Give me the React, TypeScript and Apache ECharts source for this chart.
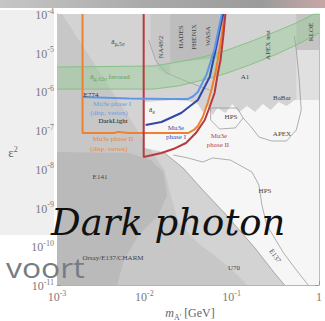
import React, { useEffect, useRef } from 'react';
import * as echarts from 'echarts';

type P = [number, number];

// ---- curves: [m_A' (GeV), epsilon^2] ----
const mu3ePhase2Displaced: P[] = [
  [1.96e-3, 1e-4], [1.96e-3, 8.4e-8], [4.5e-3, 8.4e-8], [5.0e-3, 9.0e-8], [6.7e-3, 8.4e-8],
  [3.16e-2, 8.4e-8], [3.69e-2, 1.01e-7], [4.1e-2, 1.28e-7], [4.67e-2, 2.18e-7], [5.31e-2, 5.0e-7],
  [5.9e-2, 1.15e-6], [6.54e-2, 3.18e-6], [7.26e-2, 1.17e-5], [7.84e-2, 3.86e-5], [8.27e-2, 1e-4],
];
const mu3ePhase2Prompt: P[] = [
  [9.83e-3, 1e-4], [9.83e-3, 2.02e-8], [1.57e-2, 2.57e-8], [2.14e-2, 3.25e-8], [3.0e-2, 4.65e-8],
  [3.89e-2, 8.4e-8], [4.92e-2, 1.83e-7], [5.6e-2, 3.96e-7], [6.37e-2, 9.1e-7], [6.89e-2, 2.65e-6],
  [7.45e-2, 6.48e-6], [8.05e-2, 2.87e-5], [8.48e-2, 1e-4],
];
const mu3ePhase1Prompt: P[] = [
  [1.035e-2, 1.36e-7], [1.57e-2, 1.62e-7], [2.64e-2, 2.77e-7], [4.1e-2, 6.0e-7], [5.6e-2, 2.36e-6],
  [6.54e-2, 1.17e-5], [7.84e-2, 8.37e-5], [8.05e-2, 1e-4],
];
const mu3ePhase1Displaced: P[] = [
  [1.96e-3, 7.2e-7], [6.7e-3, 6.6e-7], [1.9e-2, 6.4e-7], [3.16e-2, 6.4e-7], [3.6e-2, 7.4e-7],
  [4.1e-2, 9.7e-7], [5.18e-2, 2.8e-6], [6.37e-2, 1.25e-5], [7.45e-2, 7.0e-5], [7.66e-2, 1e-4],
];

// ---- a_mu +-2 sigma favoured band ----
const amuBandUpper: P[] = [
  [1e-3, 4.27e-6], [1.27e-2, 4.54e-6], [2.44e-2, 5.75e-6], [4.67e-2, 7.75e-6], [8.93e-2, 1.17e-5],
  [0.171, 2.0e-5], [0.311, 3.43e-5], [0.55, 5.85e-5], [0.878, 1e-4], [1.0, 1e-4],
];
const amuBandLower: P[] = [
  [1e-3, 1.15e-6], [1.27e-2, 1.15e-6], [2.44e-2, 1.38e-6], [4.67e-2, 1.97e-6], [8.93e-2, 2.99e-6],
  [0.171, 5.1e-6], [0.311, 8.73e-6], [0.55, 1.58e-5], [1.0, 3.23e-5],
];

// ---- excluded / allowed regions ----
const aeRegion: P[] = [
  [1e-3, 1e-4], [1.14e-3, 1e-4], [1.035e-2, 4.65e-8], [1.7e-2, 9.33e-9], [1.7e-2, 1e-11], [1e-3, 1e-11],
];
const na48Region: P[] = [
  [1.18e-2, 1e-4], [1.98e-2, 1e-4], [1.98e-2, 2.65e-6], [1.45e-2, 3.57e-6], [1.18e-2, 1.58e-5],
];
const hadesWasaRegion: P[] = [
  [1.98e-2, 1e-4], [7.26e-2, 1e-4], [7.26e-2, 7.3e-6], [4.1e-2, 6.48e-6], [1.98e-2, 5.42e-6],
];
const kloeRegion: P[] = [[0.55, 1e-4], [1.0, 1e-4], [1.0, 1.17e-5], [0.55, 1.17e-5]];
const rightLightRegion: P[] = [[0.55, 1.17e-5], [1.0, 1.17e-5], [1.0, 6e-7], [0.55, 6e-7]];
const allowedRegion: P[] = [
  [1.01e-2, 5.33e-7], [1.45e-2, 5.66e-7], [2.14e-2, 6.0e-7], [3.16e-2, 5.66e-7], [4.1e-2, 4.73e-7],
  [4.67e-2, 2.94e-7], [5.31e-2, 4.2e-7], [6.05e-2, 2.46e-7], [6.89e-2, 3.73e-7], [8.48e-2, 2.77e-7],
  [0.1017, 4.73e-7], [0.122, 2.94e-7], [0.15, 4.2e-7], [0.185, 2.94e-7], [0.2275, 4.73e-7],
  [0.28, 3.31e-7], [0.345, 5.33e-7], [0.4245, 4.2e-7], [0.522, 6.0e-7], [1.0, 6.0e-7],
  [1.0, 1e-11], [0.403, 1e-11], [0.303, 2.16e-11], [0.185, 9.0e-11], [8.27e-2, 7.23e-10],
  [4.67e-2, 2.84e-9], [2.78e-2, 1.05e-8], [1.65e-2, 2.72e-8], [1.01e-2, 3.46e-8],
];
const beamDumpOuter: P[] = [
  [1e-3, 3.07e-8], [6.66e-3, 2.72e-8], [1.18e-2, 1.91e-8], [1.7e-2, 9.33e-9], [1.93e-2, 2.84e-9],
  [2.44e-2, 4.23e-10], [4.1e-2, 1.21e-10], [7.45e-2, 4.42e-11], [0.1158, 1.81e-11], [0.15, 1e-11], [1e-3, 1e-11],
];
const beamDumpInner: P[] = [
  [1e-3, 2.72e-8], [6.66e-3, 2.57e-8], [1.18e-2, 1.69e-8], [1.65e-2, 8.28e-9], [1.83e-2, 2.11e-9],
  [1.45e-2, 6.42e-10], [8.63e-3, 1.95e-10], [5.85e-3, 4.42e-11], [4.88e-3, 1e-11], [1e-3, 1e-11],
];

// ---- thin outlines ----
const e137Line: P[] = [
  [1.65e-2, 2.72e-8], [2.78e-2, 1.05e-8], [4.67e-2, 2.84e-9], [8.27e-2, 7.23e-10], [0.185, 9.0e-11],
  [0.303, 2.16e-11], [0.403, 1e-11],
];
const snLine: P[] = [
  [2.14e-2, 2.28e-8], [3.16e-2, 1.91e-8], [4.67e-2, 1.5e-8], [6.05e-2, 1.91e-8], [9.66e-2, 1.69e-8],
  [0.171, 8.28e-9], [0.205, 3.82e-9], [0.222, 1.16e-9], [0.2524, 3.54e-10], [0.393, 6.7e-11],
  [0.55, 2.44e-11], [0.751, 1e-11],
];
const hpsBubble: P[] = [
  [5.74e-2, 3.73e-7], [0.1158, 3.73e-7], [0.1354, 2.06e-7], [0.11, 1.14e-7], [7.26e-2, 1.07e-7],
  [5.74e-2, 1.83e-7], [5.74e-2, 3.73e-7],
];
const apexLine: P[] = [
  [0.1354, 2.06e-7], [0.171, 1.14e-7], [0.205, 6.65e-8], [0.2875, 5.24e-8], [0.4245, 5.24e-8],
  [0.55, 1.01e-7], [0.626, 3.31e-7], [0.594, 1.97e-6], [0.55, 1.17e-5], [0.522, 2.7e-5],
];
const amu5sLine: P[] = [
  [1.12e-2, 2.13e-5], [1.34e-2, 6.48e-6], [1.79e-2, 2.99e-6], [3.16e-2, 1.75e-6], [5.6e-2, 1.09e-6],
];

const SERIF = "'Liberation Serif', 'Times New Roman', serif";
const TICK_COLOR = '#7a7a7a';

function polygonSeries(name: string, pts: P[], fill: string, z: number, stroke = 'none', lw = 0) {
  return {
    type: 'custom',
    name,
    z,
    silent: true,
    clip: true,
    data: pts,
    encode: { x: 0, y: 1 },
    renderItem: (params: any, api: any) => {
      if (params.dataIndex !== 0) return null;
      return {
        type: 'polygon',
        shape: { points: pts.map((p) => api.coord(p)) },
        style: { fill, stroke, lineWidth: lw },
      };
    },
  };
}

function lineSeries(name: string, pts: P[], color: string, width: number, z: number) {
  return {
    type: 'line',
    name,
    data: pts,
    z,
    silent: true,
    showSymbol: false,
    symbol: 'none',
    clip: true,
    lineStyle: { color, width },
  };
}

function lbl(text: string, x: number, y: number, color = '#444', size = 7, rotation = 0) {
  return {
    type: 'text',
    x,
    y,
    rotation,
    z: 60,
    silent: true,
    style: {
      text,
      fill: color,
      fontSize: size,
      fontFamily: SERIF,
      align: 'center',
      verticalAlign: 'middle',
      textAlign: 'center',
      textVerticalAlign: 'middle',
    },
  };
}

function powLabel(v: number) {
  const e = Math.round(Math.log10(v));
  if (e === 0) return '{b|1}';
  return `{b|10}{s|${e}}`;
}

const tickRich = {
  b: { fontFamily: SERIF, fontSize: 12, color: TICK_COLOR, lineHeight: 14, verticalAlign: 'bottom' },
  s: { fontFamily: SERIF, fontSize: 8, color: TICK_COLOR, lineHeight: 8, verticalAlign: 'top' },
};

export default function App() {
  const ref = useRef<HTMLDivElement>(null);
  useEffect(() => {
    if (!ref.current) return;
    const chart = echarts.init(ref.current, null, { renderer: 'svg' });
    const bandPoly: P[] = [...amuBandUpper, ...amuBandLower.slice().reverse()];
    const option: any = {
      animation: false,
      backgroundColor: '#ffffff',
      grid: { left: 57, right: 3, top: 14, bottom: 36, show: true, backgroundColor: '#d3d3d3', borderWidth: 0 },
      xAxis: {
        type: 'log',
        logBase: 10,
        min: 1e-3,
        max: 1,
        axisLine: { show: true, lineStyle: { color: '#b5b5b5' } },
        axisTick: { show: true, inside: true, length: 4, lineStyle: { color: '#9a9a9a' } },
        splitLine: { show: false },
        axisLabel: { margin: 4, formatter: powLabel, rich: tickRich },
      },
      yAxis: [
        {
          type: 'log',
          logBase: 10,
          min: 1e-11,
          max: 1e-4,
          axisLine: { show: true, lineStyle: { color: '#b5b5b5' } },
          axisTick: { show: true, inside: true, length: 4, lineStyle: { color: '#9a9a9a' } },
          splitLine: { show: false },
          axisLabel: { margin: 3, formatter: powLabel, rich: tickRich },
        },
        {
          type: 'log',
          logBase: 10,
          min: 1e-11,
          max: 1e-4,
          position: 'right',
          axisLine: { show: true, lineStyle: { color: '#bbbbbb' } },
          axisTick: { show: true, inside: true, length: 4, lineStyle: { color: '#9a9a9a' } },
          splitLine: { show: false },
          axisLabel: { show: false },
        },
      ],
      series: [
        polygonSeries('a_e', aeRegion, '#c7c7c7', 1),
        polygonSeries('NA48/2', na48Region, '#c8c8c8', 1),
        polygonSeries('HADES/PHENIX/WASA', hadesWasaRegion, '#bdbdbd', 1),
        polygonSeries('KLOE', kloeRegion, '#c4c4c4', 1),
        polygonSeries('right', rightLightRegion, '#e0e0e0', 1),
        polygonSeries('allowed', allowedRegion, '#f6f6f6', 1),
        polygonSeries('beam dump', beamDumpOuter, '#c7c7c7', 1),
        polygonSeries('E141', beamDumpInner, '#bababa', 1),
        lineSeries('E137', e137Line, '#8f8f8f', 0.7, 2),
        lineSeries('SN', snLine, '#8f8f8f', 0.7, 2),
        lineSeries('HPS', hpsBubble, '#8f8f8f', 0.7, 2),
        lineSeries('APEX', apexLine, '#8f8f8f', 0.7, 2),
        lineSeries('amu5s', amu5sLine, '#9a9a9a', 0.7, 2),
        polygonSeries('a_mu band', bandPoly, 'rgba(130,205,130,0.33)', 3),
        lineSeries('band upper', amuBandUpper, '#7fbf7f', 0.9, 3),
        lineSeries('band lower', amuBandLower, '#7fbf7f', 0.9, 3),
        lineSeries('Mu3e phase II disp', mu3ePhase2Displaced, '#f0802e', 2, 5),
        lineSeries('Mu3e phase II', mu3ePhase2Prompt, '#b83a3e', 2, 5),
        lineSeries('Mu3e phase I', mu3ePhase1Prompt, '#3346a8', 2, 5),
        lineSeries('Mu3e phase I disp', mu3ePhase1Displaced, '#5f97e6', 2, 5),
      ],
      graphic: [
        {
          type: 'rect',
          z: -1,
          silent: true,
          shape: { x: 0, y: 0, width: 325, height: 8 },
          style: {
            fill: new echarts.graphic.LinearGradient(0, 0, 1, 0, [
              { offset: 0, color: '#c6c6c6' },
              { offset: 0.45, color: '#aaaaaa' },
              { offset: 0.8, color: '#9b9b9b' },
              { offset: 1, color: '#c8a6a6' },
            ]),
          },
        },
        { type: 'rect', z: -1, silent: true, shape: { x: 0, y: 10, width: 54, height: 225 }, style: { fill: '#efefef' } },
        lbl('{a|a}{s|μ,5σ}', 118, 42),
        lbl('{a|a}{s|μ,±2σ} favored', 110, 77, '#5e9e5e'),
        lbl('E774', 91, 95, '#333'),
        lbl('Mu3e phase I', 112, 104, '#6a9be8'),
        lbl('(disp. vertex)', 109, 113, '#6a9be8'),
        lbl('DarkLight', 113, 121, '#222'),
        lbl('Mu3e phase II', 113, 139, '#e8853f'),
        lbl('(disp. vertex)', 109, 149, '#e8853f'),
        lbl('{a|a}{s|e}', 152, 110),
        lbl('Mu3e', 176, 128, '#3a4fb0'),
        lbl('phase I', 176, 137, '#3a4fb0'),
        lbl('Mu3e', 219, 136, '#b8444a'),
        lbl('phase II', 218, 145, '#b8444a'),
        lbl('HPS', 231, 117),
        lbl('A1', 245, 77),
        lbl('BaBar', 282, 98),
        lbl('APEX', 282, 134),
        lbl('HPS', 265, 191),
        lbl('E137', 275, 256, '#444', 7, (-55 * Math.PI) / 180),
        lbl('U70', 234, 268),
        lbl('E141', 100, 177),
        lbl('Orsay/E137/CHARM', 113, 258),
        lbl('NA48/2', 161, 47, '#444', 7, Math.PI / 2),
        lbl('HADES', 181, 37, '#444', 7, Math.PI / 2),
        lbl('PHENIX', 194, 37, '#444', 7, Math.PI / 2),
        lbl('WASA', 208, 36, '#444', 7, Math.PI / 2),
        lbl('APEX test', 268, 45, '#444', 7, Math.PI / 2),
        lbl('KLOE', 311, 32, '#444', 7, Math.PI / 2),
        {
          type: 'text',
          x: 13,
          y: 152,
          z: 60,
          silent: true,
          style: {
            text: '{e|ε}{s|2}',
            align: 'center',
            verticalAlign: 'middle',
            textAlign: 'center',
            textVerticalAlign: 'middle',
            rich: {
              e: { fontFamily: SERIF, fontSize: 13, fill: '#666', color: '#666', lineHeight: 14, verticalAlign: 'bottom' },
              s: { fontFamily: SERIF, fontSize: 8, fill: '#666', color: '#666', lineHeight: 8, verticalAlign: 'top' },
            },
          },
        },
        {
          type: 'text',
          x: 190,
          y: 314,
          z: 60,
          silent: true,
          style: {
            text: "{i|m}{sub|A'}{n| [GeV]}",
            align: 'center',
            verticalAlign: 'middle',
            textAlign: 'center',
            textVerticalAlign: 'middle',
            rich: {
              i: { fontFamily: SERIF, fontStyle: 'italic', fontSize: 12, fill: '#666', color: '#666', lineHeight: 14, verticalAlign: 'top' },
              sub: { fontFamily: SERIF, fontSize: 8, fill: '#666', color: '#666', lineHeight: 8, verticalAlign: 'bottom' },
              n: { fontFamily: SERIF, fontSize: 12, fill: '#666', color: '#666', lineHeight: 14, verticalAlign: 'top' },
            },
          },
        },
        {
          type: 'text',
          x: 51,
          y: 222,
          z: 80,
          silent: true,
          style: {
            text: 'Dark photon',
            fill: '#111111',
            fontFamily: "'DejaVu Serif', serif",
            fontStyle: 'italic',
            fontSize: 37,
            align: 'left',
            verticalAlign: 'middle',
            textAlign: 'left',
            textVerticalAlign: 'middle',
          },
        },
        {
          type: 'text',
          x: 6,
          y: 267,
          scaleX: 1.18,
          z: 80,
          silent: true,
          style: {
            text: 'voort',
            fill: '#777c82',
            fontFamily: "'Open Sans', sans-serif",
            fontSize: 27,
            align: 'left',
            verticalAlign: 'middle',
            textAlign: 'left',
            textVerticalAlign: 'middle',
          },
        },
      ],
    };
    // rich sub-styles for small labels
    option.graphic.forEach((g: any) => {
      if (g.type === 'text' && typeof g.style.text === 'string' && g.style.text.startsWith('{a|')) {
        const c = g.style.fill;
        g.style.rich = {
          a: { fontFamily: SERIF, fontSize: 7.5, fill: c, color: c, lineHeight: 9, verticalAlign: 'top' },
          s: { fontFamily: SERIF, fontSize: 5.5, fill: c, color: c, lineHeight: 6, verticalAlign: 'bottom' },
        };
      }
    });
    chart.setOption(option);
    return () => chart.dispose();
  }, []);
  return (
    <div
      ref={ref}
      style={{ position: 'fixed', left: 0, top: 0, width: 325, height: 321, background: '#ffffff' }}
    />
  );
}
